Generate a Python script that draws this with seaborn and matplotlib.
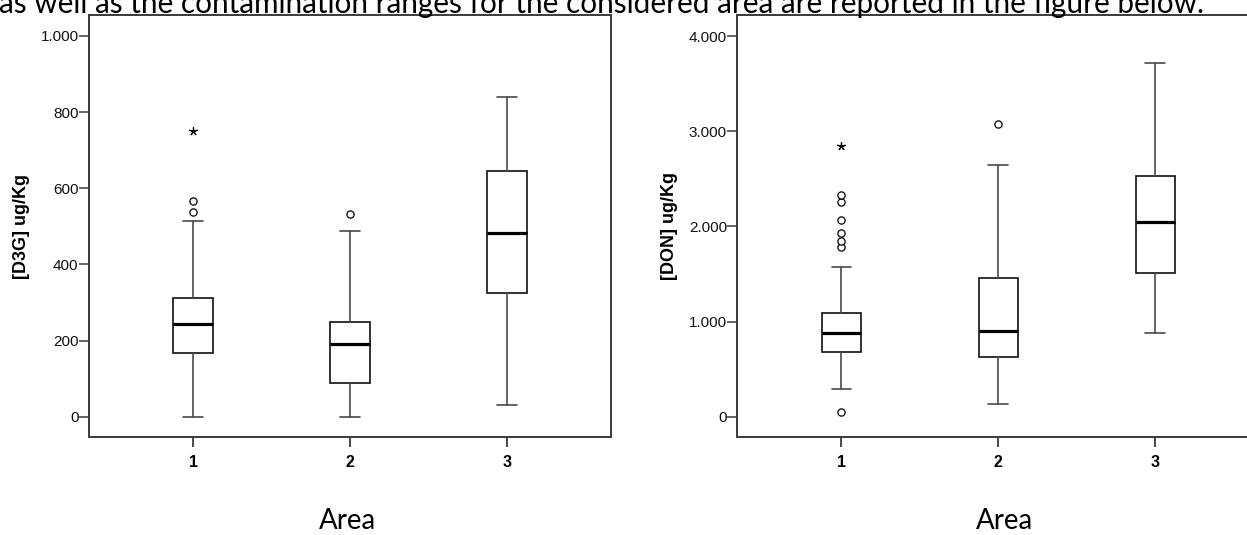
import numpy as np
import pandas as pd
import matplotlib
matplotlib.use("Agg")
import matplotlib.pyplot as plt
import seaborn as sns

# ---------------- data ----------------
areas = ["1", "2", "3"]

# D3G (ug/Kg) box statistics per area
d3g_whislo = [0, 0, 31]
d3g_q1 = [168, 88, 324]
d3g_med = [244, 192, 482]
d3g_q3 = [311, 250, 646]
d3g_whishi = [514, 488, 840]
d3g_out_area = ["1", "1", "2"]
d3g_out_val = [537, 566, 532]
d3g_ext_area = ["1"]
d3g_ext_val = [750]

# DON (ug/Kg) box statistics per area
don_whislo = [294, 137, 879]
don_q1 = [680, 630, 1513]
don_med = [879, 897, 2046]
don_q3 = [1093, 1454, 2529]
don_whishi = [1576, 2641, 3713]
don_out_area = ["1", "1", "1", "1", "1", "1", "1", "2"]
don_out_val = [46, 1780, 1850, 1933, 2067, 2259, 2326, 3079]
don_ext_area = ["1"]
don_ext_val = [2844]

d3g_ticks = [0, 200, 400, 600, 800, 1000]
d3g_ticklabels = ["0", "200", "400", "600", "800", "1.000"]
don_ticks = [0, 1000, 2000, 3000, 4000]
don_ticklabels = ["0", "1.000", "2.000", "3.000", "4.000"]

header = "as well as the contamination ranges for the considered area are reported in the figure below."

# ---------------- style ----------------
sns.set_theme(style="ticks")
plt.rcParams["font.family"] = ["Liberation Sans", "DejaVu Sans"]

W, H = 1247, 535
fig = plt.figure(figsize=(W / 100, H / 100), dpi=100)

frame_col = "#3a3a3a"


def panel(ax, whislo, q1, med, q3, whishi, out_area, out_val, ext_area, ext_val,
          ylim, ticks, ticklabels, ylabel, label_x):
    # outliers and extremes via seaborn on the categorical axis
    sns.stripplot(x=out_area + ["3"], y=out_val + [np.nan], order=areas, jitter=False,
                  marker="o", size=5.2, color="white", edgecolor="black",
                  linewidth=0.9, ax=ax, zorder=4)
    sns.stripplot(x=ext_area, y=ext_val, order=areas, jitter=False,
                  marker=(5, 2, 0), size=5.5, color="black", edgecolor="black",
                  linewidth=0.9, ax=ax, zorder=4)
    stats = []
    for i in range(len(areas)):
        stats.append(dict(med=med[i], q1=q1[i], q3=q3[i], whislo=whislo[i],
                          whishi=whishi[i], fliers=[]))
    ax.bxp(stats, positions=list(range(len(areas))), widths=0.25,
           showfliers=False, patch_artist=True, manage_ticks=False,
           boxprops=dict(facecolor="white", edgecolor="#111111", linewidth=1.2),
           medianprops=dict(color="black", linewidth=2.3),
           whiskerprops=dict(color="#4a4a4a", linewidth=1.2),
           capprops=dict(color="#4a4a4a", linewidth=1.2))
    ax.set_xlim(-0.663, 2.663)
    ax.set_ylim(*ylim)
    ax.set_xticks(range(len(areas)))
    ax.set_xticklabels(areas, fontsize=11.5, fontweight="bold", color="black")
    ax.set_yticks(ticks)
    ax.set_yticklabels(ticklabels, fontsize=11, color="#111111")
    ax.tick_params(axis="y", length=7, width=1.1, color=frame_col, pad=0.5)
    ax.tick_params(axis="x", length=7, width=1.3, color=frame_col, pad=5.5)
    for s in ax.spines.values():
        s.set_visible(True)
        s.set_color(frame_col)
        s.set_linewidth(1.4)
    ax.set_xlabel("")
    ax.set_ylabel(ylabel, fontsize=13, fontweight="bold", color="black")
    ax.yaxis.set_label_coords(-0.113, 0.5)
    ax.grid(False)
    ax.set_facecolor("white")
    t = ax.text(label_x, -0.216, "Area", transform=ax.transAxes, ha="center",
                va="baseline", fontsize=17, family=["Lato", "DejaVu Sans"], color="black")
    return t


ax1 = fig.add_axes([89 / W, 1 - 437.3 / H, 522 / W, 422.3 / H])
ax2 = fig.add_axes([737.3 / W, 1 - 437.3 / H, 522 / W, 422.3 / H])

t1 = panel(ax1, d3g_whislo, d3g_q1, d3g_med, d3g_q3, d3g_whishi, d3g_out_area, d3g_out_val,
           d3g_ext_area, d3g_ext_val, (-54, 1055), d3g_ticks, d3g_ticklabels,
           "[D3G] ug/Kg", 0.496)
t2 = panel(ax2, don_whislo, don_q1, don_med, don_q3, don_whishi, don_out_area, don_out_val,
           don_ext_area, don_ext_val, (-216, 4221), don_ticks, don_ticklabels,
           "[DON] ug/Kg", 0.511)

top = fig.text(-1 / W, 1 - 13 / H, header, ha="left", va="baseline", fontsize=20,
               family=["Lato", "DejaVu Sans"], color="black")

# fit text widths to the reference
fig.canvas.draw()
r = fig.canvas.get_renderer()
w = top.get_window_extent(r).width
top.set_fontsize(20 * 1206 / w)
for t in (t1, t2):
    w = t.get_window_extent(r).width
    t.set_fontsize(17 * 57 / w)

fig.savefig("out.png", dpi=100, facecolor="white")
